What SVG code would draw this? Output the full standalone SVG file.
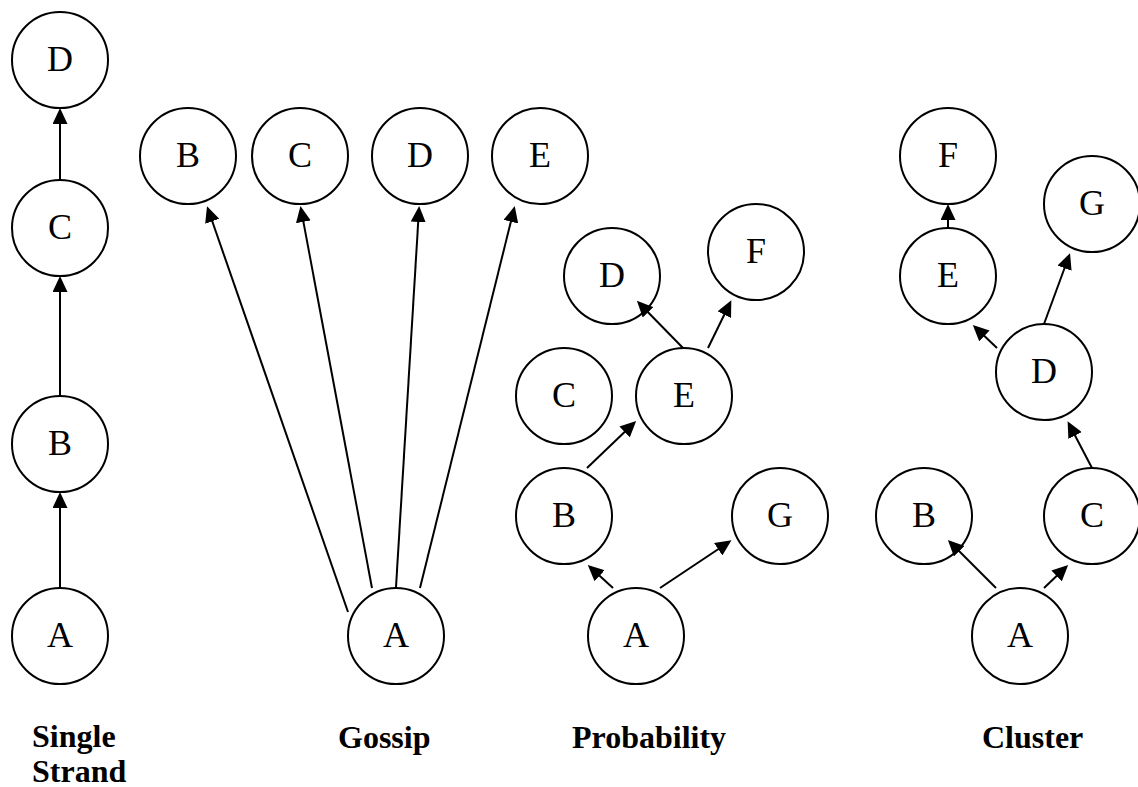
<svg xmlns="http://www.w3.org/2000/svg" width="1138" height="787" viewBox="0 0 1138 787">
  <defs>
    <style>
      .node circle { fill: #ffffff; stroke: #000000; stroke-width: 2; }
      .node text { font-family: "Liberation Serif", "Times New Roman", serif; font-size: 36px; fill: #000000; text-anchor: middle; }
      .edges line { stroke: #000000; stroke-width: 2; marker-end: url(#arrow); }
      .caption { font-family: "Liberation Serif", "Times New Roman", serif; font-size: 32px; font-weight: bold; fill: #000000; }
    </style>
    <marker id="arrow" markerUnits="userSpaceOnUse" markerWidth="16" markerHeight="15" refX="13" refY="7.5" orient="auto">
      <path d="M0,0 L16,7.5 L0,15 Z" fill="#000000"/>
    </marker>
  </defs>
  <rect width="1138" height="787" fill="#ffffff"/>

  <!-- single strand -->
  <g id="ss-a" class="node"><circle cx="60" cy="636" r="48"/><text x="60" y="647">A</text></g>
  <g id="ss-b" class="node"><circle cx="60" cy="444" r="48"/><text x="60" y="455">B</text></g>
  <g id="ss-c" class="node"><circle cx="60" cy="228" r="48"/><text x="60" y="239">C</text></g>
  <g id="ss-d" class="node"><circle cx="60" cy="60" r="48"/><text x="60" y="71">D</text></g>

  <!-- gossip -->
  <g id="go-a" class="node"><circle cx="396" cy="636" r="48"/><text x="396" y="647">A</text></g>
  <g id="go-b" class="node"><circle cx="188" cy="156" r="48"/><text x="188" y="167">B</text></g>
  <g id="go-c" class="node"><circle cx="300" cy="156" r="48"/><text x="300" y="167">C</text></g>
  <g id="go-d" class="node"><circle cx="420" cy="156" r="48"/><text x="420" y="167">D</text></g>
  <g id="go-e" class="node"><circle cx="540" cy="156" r="48"/><text x="540" y="167">E</text></g>

  <!-- probability -->
  <g id="pr-a" class="node"><circle cx="636" cy="636" r="48"/><text x="636" y="647">A</text></g>
  <g id="pr-b" class="node"><circle cx="564" cy="516" r="48"/><text x="564" y="527">B</text></g>
  <g id="pr-c" class="node"><circle cx="564" cy="396" r="48"/><text x="564" y="407">C</text></g>
  <g id="pr-d" class="node"><circle cx="612" cy="276" r="48"/><text x="612" y="287">D</text></g>
  <g id="pr-e" class="node"><circle cx="684" cy="396" r="48"/><text x="684" y="407">E</text></g>
  <g id="pr-f" class="node"><circle cx="756" cy="252" r="48"/><text x="756" y="263">F</text></g>
  <g id="pr-g" class="node"><circle cx="780" cy="516" r="48"/><text x="780" y="527">G</text></g>

  <!-- cluster -->
  <g id="cl-a" class="node"><circle cx="1020" cy="636" r="48"/><text x="1020" y="647">A</text></g>
  <g id="cl-b" class="node"><circle cx="924" cy="516" r="48"/><text x="924" y="527">B</text></g>
  <g id="cl-c" class="node"><circle cx="1092" cy="516" r="48"/><text x="1092" y="527">C</text></g>
  <g id="cl-d" class="node"><circle cx="1044" cy="372" r="48"/><text x="1044" y="383">D</text></g>
  <g id="cl-e" class="node"><circle cx="948" cy="276" r="48"/><text x="948" y="287">E</text></g>
  <g id="cl-f" class="node"><circle cx="948" cy="156" r="48"/><text x="948" y="167">F</text></g>
  <g id="cl-g" class="node"><circle cx="1092" cy="204" r="48"/><text x="1092" y="215">G</text></g>

  <!-- connectors, drawn over the nodes; each line stops 3px short of its arrow tip -->
  <g id="connectors" class="edges">
    <!-- single strand -->
    <line x1="60" y1="588" x2="60" y2="495"/>
    <line x1="60" y1="396" x2="60" y2="279"/>
    <line x1="60" y1="180" x2="60" y2="111"/>
    <!-- gossip -->
    <line x1="348" y1="612" x2="208" y2="209"/>
    <line x1="372" y1="588" x2="301" y2="209"/>
    <line x1="396" y1="587" x2="419" y2="209"/>
    <line x1="420" y1="588" x2="514" y2="209"/>
    <!-- probability -->
    <line x1="613" y1="588" x2="590" y2="567"/>
    <line x1="660" y1="588" x2="729" y2="542"/>
    <line x1="587" y1="468" x2="634" y2="423"/>
    <line x1="683" y1="348" x2="639" y2="303"/>
    <line x1="708" y1="348" x2="730" y2="303"/>
    <!-- cluster -->
    <line x1="948" y1="228" x2="948" y2="207"/>
    <line x1="997" y1="348" x2="975" y2="327"/>
    <line x1="1044" y1="324" x2="1069" y2="256"/>
    <line x1="1092" y1="468" x2="1069" y2="424"/>
    <line x1="996" y1="588" x2="950" y2="542"/>
    <line x1="1044" y1="588" x2="1066" y2="567"/>
  </g>

  <!-- captions -->
  <g id="captions">
    <text class="caption" x="32" y="747">Single</text>
    <text class="caption" x="32" y="782">Strand</text>
    <text class="caption" x="338" y="748">Gossip</text>
    <text class="caption" x="572" y="748">Probability</text>
    <text class="caption" x="982" y="748">Cluster</text>
  </g>
</svg>
